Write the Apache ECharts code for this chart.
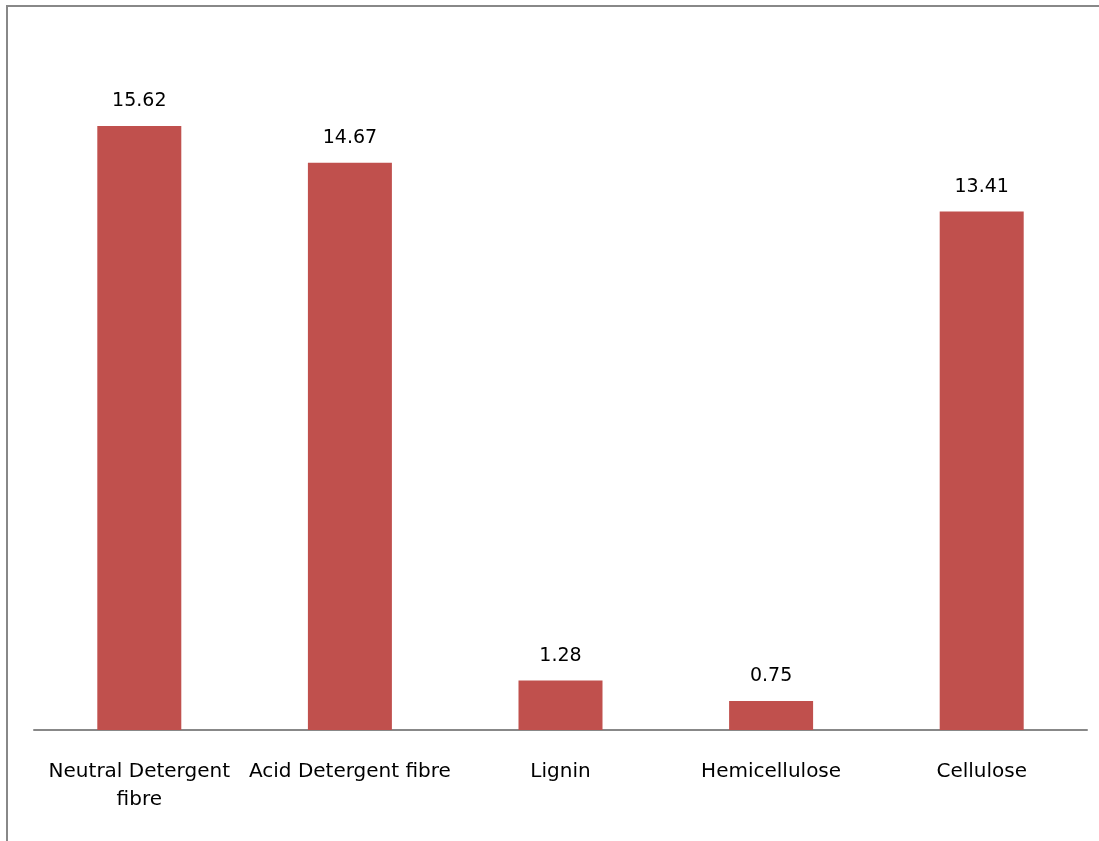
<!DOCTYPE html>
<html><head><meta charset="utf-8">
<script src="https://cdn.jsdelivr.net/npm/echarts@6/dist/echarts.min.js"></script>
<style>html,body{margin:0;padding:0;background:#fff}#c{width:1099px;height:841px}</style>
</head><body><div id="c"></div>
<script>
const categories = ["Neutral Detergent\nfibre", "Acid Detergent fibre", "Lignin", "Hemicellulose", "Cellulose"];
const values = [15.62, 14.67, 1.28, 0.75, 13.41];
const chart = echarts.init(document.getElementById('c'));
chart.setOption({
  animation: false,
  graphic: [{type:'rect', shape:{x:7, y:6, width:1200, height:900}, style:{fill:'none', stroke:'#888', lineWidth:2}, z:-1}],
  grid: {left: 34, right: 12, top: 34, bottom: 111},
  xAxis: {type:'category', data: categories,
    axisLine:{lineStyle:{color:'#888', width:2}}, axisTick:{show:false},
    axisLabel:{color:'#000', fontSize:20, fontFamily:'DejaVu Sans', margin:28, lineHeight:28, interval:0}},
  yAxis: {type:'value', min:0, max:18, show:false, splitLine:{show:false}},
  series: [{type:'bar', data: values, barWidth: 84, itemStyle:{color:'#C0504D'},
    label:{show:true, position:'top', distance:15, color:'#000', fontSize:19, fontFamily:'DejaVu Sans', formatter: p => p.value.toFixed(2)}}]
});
</script></body></html>
